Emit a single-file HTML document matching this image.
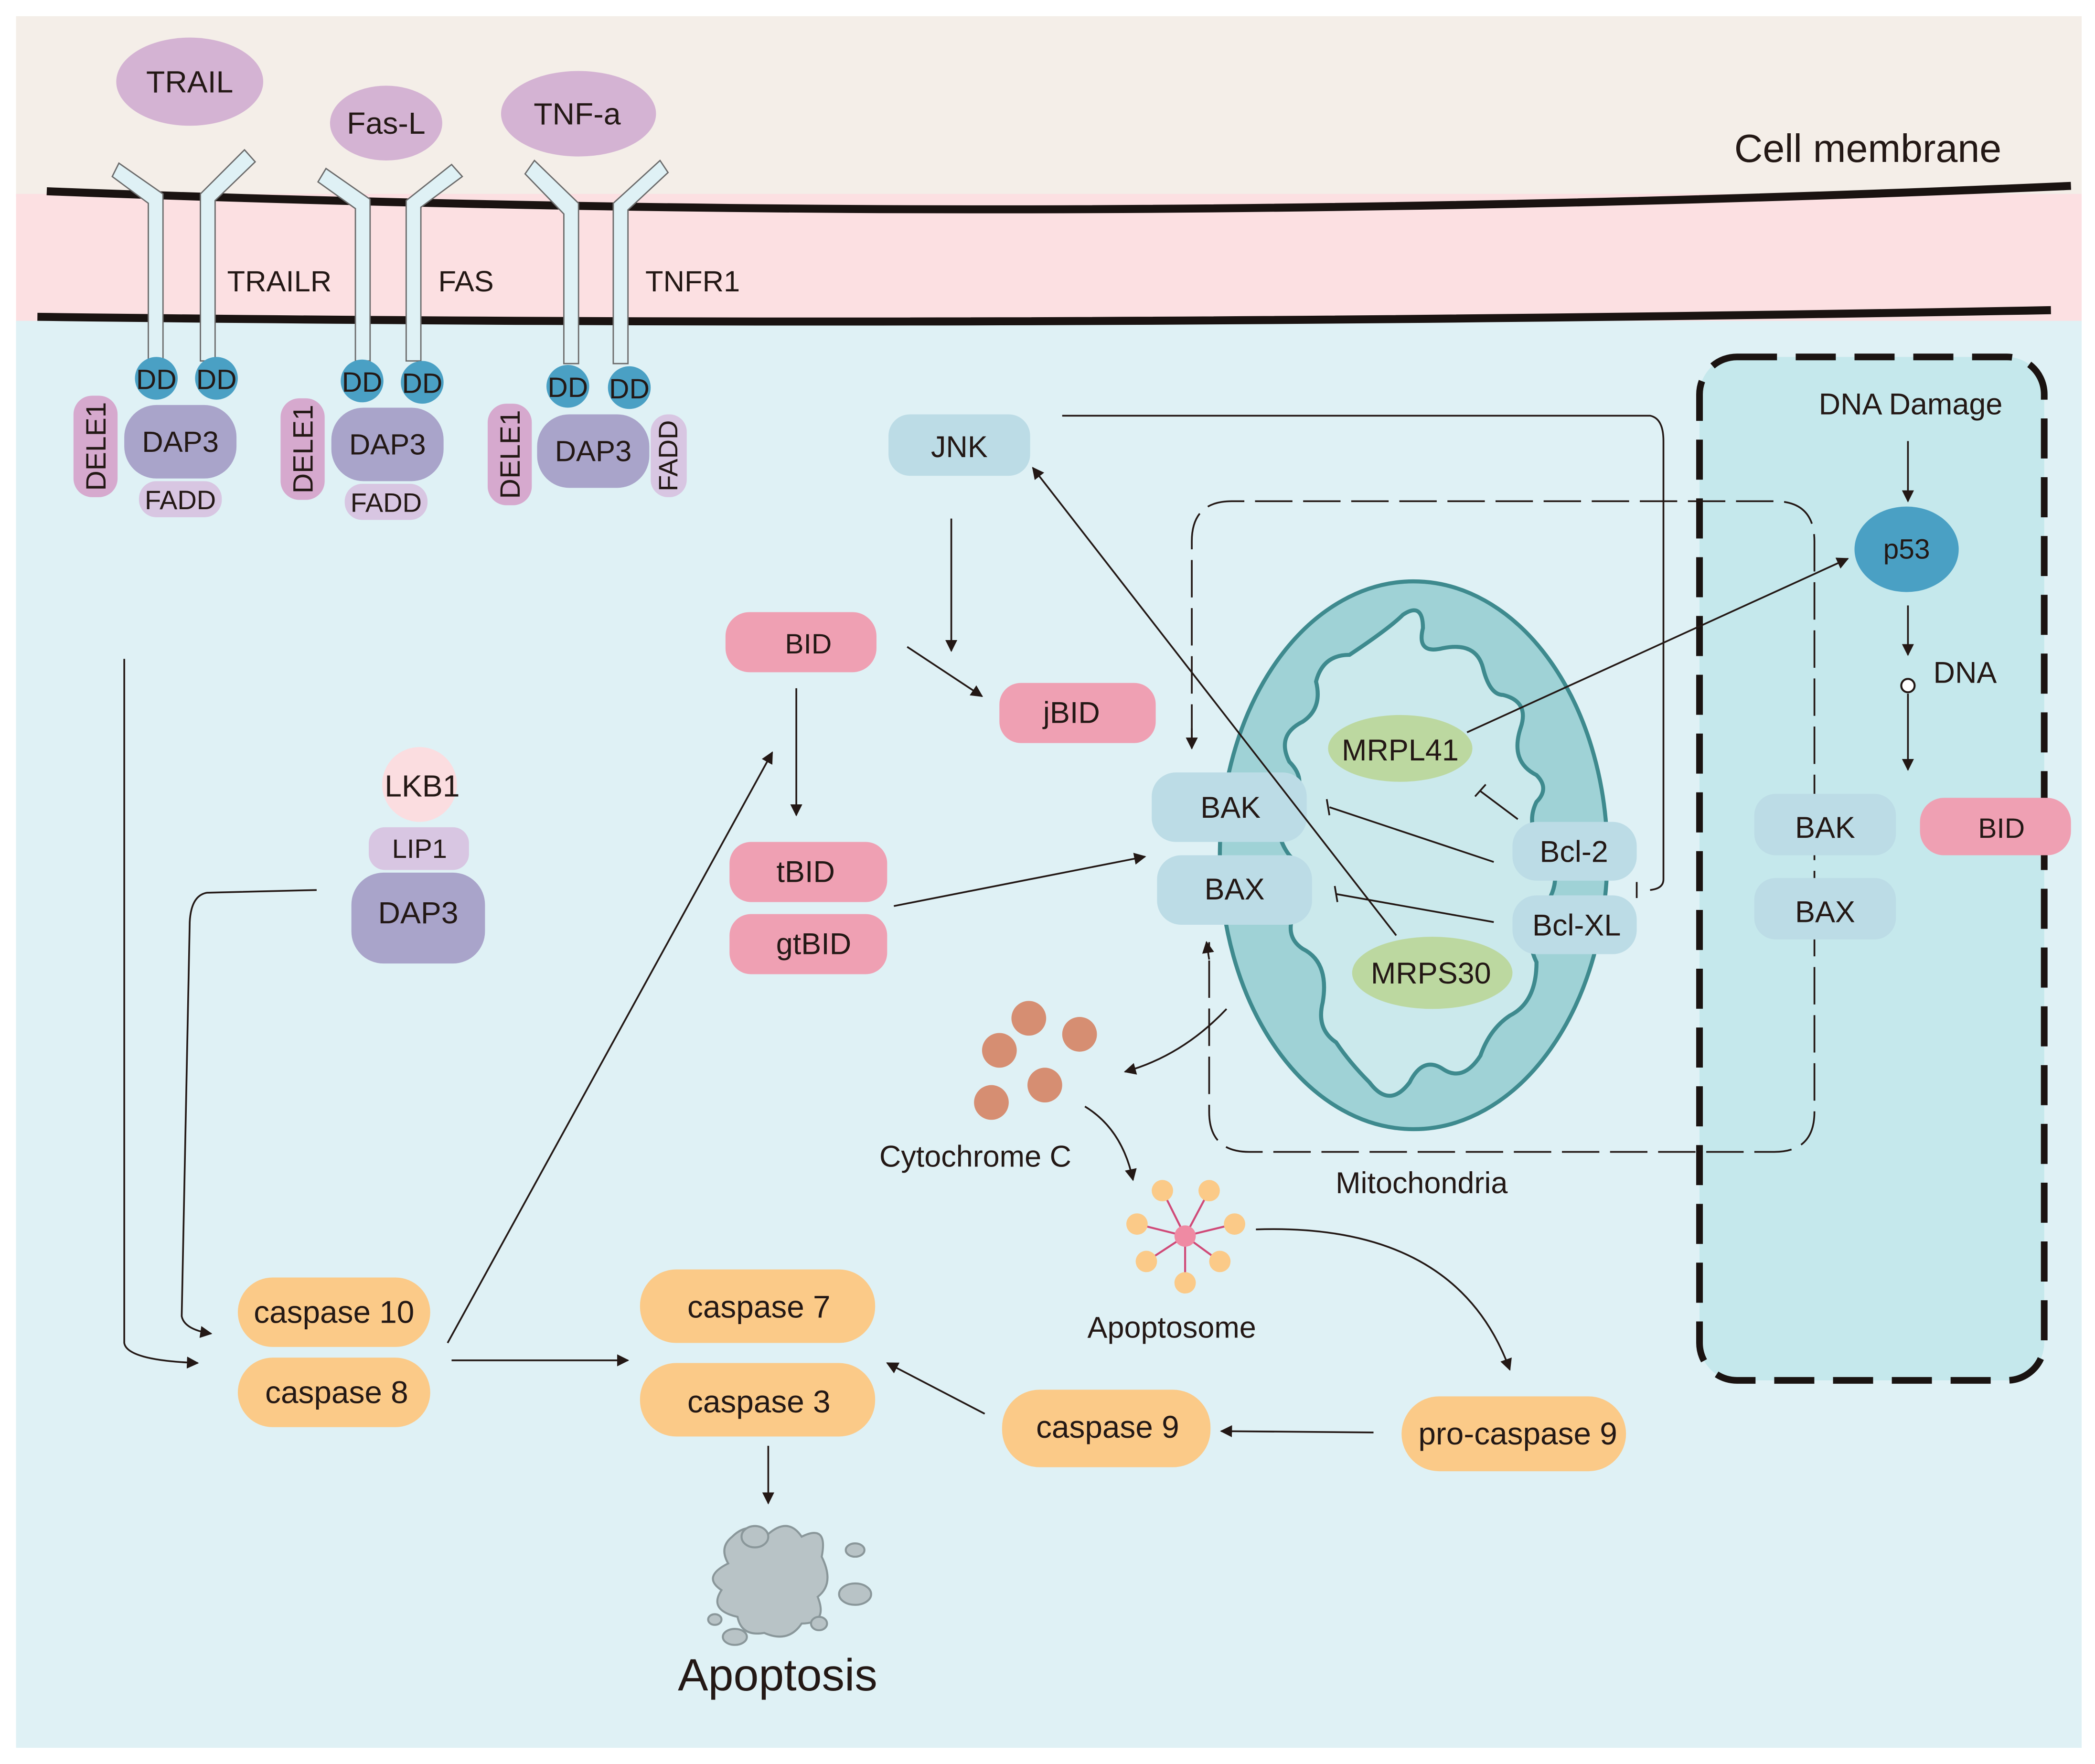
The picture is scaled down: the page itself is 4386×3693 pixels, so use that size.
<!DOCTYPE html>
<html><head><meta charset="utf-8"><style>html,body{margin:0;padding:0;background:#fff}svg{display:block}text{font-family:"Liberation Sans",sans-serif;fill:#231815}</style></head>
<body>
<svg width="4386" height="3693" viewBox="0 0 1568 1320" xmlns="http://www.w3.org/2000/svg">
<defs>
<marker id="a" viewBox="0 0 10 10" refX="9" refY="5" markerWidth="9" markerHeight="9" markerUnits="userSpaceOnUse" orient="auto"><path d="M0,0L10,5L0,10z" fill="#231815"/></marker>
</defs>
<rect x="0" y="0" width="1568" height="1320" fill="#fff"/>
<rect x="12" y="12" width="1546" height="135" fill="#f4eee8"/>
<rect x="12" y="145" width="1546" height="97" fill="#fce0e2"/>
<rect x="12" y="240" width="1546" height="1068" fill="#dff1f5"/>
<path d="M35,143 Q790,172 1550,139" stroke="#1a1311" stroke-width="6" fill="none"/>
<path d="M28,237 Q780,246 1535,232" stroke="#1a1311" stroke-width="6" fill="none"/>
<text x="1298" y="121" font-size="29.5">Cell membrane</text>
<!-- nucleus -->
<rect x="1272" y="267" width="258" height="766" rx="28" fill="#c5e8ec" stroke="#1a1311" stroke-width="5" stroke-dasharray="30,14"/>
<!-- inner dashed -->
<path d="M892,555 L892,405 Q892,375 922,375 L1328,375 Q1358,375 1358,405 L1358,832 Q1358,862 1328,862 L935,862 Q905,862 905,832 L905,705" fill="none" stroke="#231815" stroke-width="1.3" stroke-dasharray="28,8"/>
<line x1="892" y1="545" x2="892" y2="560" stroke="#231815" stroke-width="1.3" marker-end="url(#a)"/>
<line x1="905" y1="718" x2="903" y2="705" stroke="#231815" stroke-width="1.3" marker-end="url(#a)"/>
<!-- mitochondria -->
<ellipse cx="1058" cy="640" rx="145" ry="205" fill="#9fd2d6" stroke="#3e8a8e" stroke-width="3"/>
<path d="M1010,490 Q1040,470 1050,460 Q1065,450 1065,470 Q1060,490 1080,485 Q1105,480 1110,500 Q1115,520 1125,520 Q1145,525 1138,545 Q1130,570 1150,580 Q1160,590 1150,600 Q1140,620 1160,640 Q1170,660 1155,680 Q1140,700 1150,720 Q1150,750 1130,760 Q1115,770 1108,790 Q1095,810 1080,800 Q1065,790 1055,810 Q1040,830 1025,810 Q1010,795 1000,780 Q985,770 990,750 Q995,720 975,710 Q960,700 970,680 Q985,660 965,640 Q950,620 965,600 Q980,585 965,570 Q955,550 975,540 Q990,530 985,510 Q990,490 1010,490Z" fill="#cbe9ec" stroke="#3e8a8e" stroke-width="3"/>
<!-- ligands -->
<ellipse cx="142" cy="61" rx="55" ry="33" fill="#d4b3d3"/><text x="142" y="69" font-size="23" text-anchor="middle">TRAIL</text>
<ellipse cx="289" cy="92" rx="42" ry="28" fill="#d4b3d3"/><text x="289" y="100" font-size="23" text-anchor="middle">Fas-L</text>
<ellipse cx="433" cy="85" rx="58" ry="32" fill="#d4b3d3"/><text x="432" y="93" font-size="23" text-anchor="middle">TNF-a</text>
<!-- receptors -->
<g fill="#dff1f5" stroke="#6b6b6b" stroke-width="1">
<polygon points="111,270 111,152 84,132 89,122 122,145 122,270"/>
<polygon points="150,270 150,145 183,112 191,121 161,150 161,270"/>
<polygon points="266,270 266,156 238,136 244,126 277,149 277,270"/>
<polygon points="304,270 304,150 338,123 346,132 315,155 315,270"/>
<polygon points="422,272 422,160 393,130 400,120 433,152 433,272"/>
<polygon points="459,272 459,152 494,120 500,129 470,157 470,272"/>
</g>
<text x="170" y="218" font-size="22">TRAILR</text>
<text x="328" y="218" font-size="22">FAS</text>
<text x="483" y="218" font-size="22">TNFR1</text>
<g fill="#4aa0c4"><circle cx="117" cy="283" r="16"/><circle cx="162" cy="283" r="16"/><circle cx="271" cy="285" r="16"/><circle cx="316" cy="286" r="16"/><circle cx="425" cy="289" r="16"/><circle cx="471" cy="290" r="16"/></g>
<g font-size="21" text-anchor="middle"><text x="117" y="291">DD</text><text x="162" y="291">DD</text><text x="271" y="293">DD</text><text x="316" y="294">DD</text><text x="425" y="297">DD</text><text x="471" y="298">DD</text></g>
<g fill="#d8c6e2"><rect x="104" y="360" width="62" height="27" rx="13"/><rect x="258" y="362" width="62" height="27" rx="13"/><rect x="487" y="310" width="27" height="62" rx="13"/></g>
<g fill="#a9a4ca"><rect x="93" y="303" width="84" height="55" rx="24"/><rect x="248" y="305" width="84" height="55" rx="24"/><rect x="402" y="310" width="84" height="55" rx="24"/><rect x="263" y="653" width="100" height="68" rx="24"/></g>
<g fill="#d6a9ce"><rect x="55" y="296" width="33" height="76" rx="14"/><rect x="210" y="298" width="33" height="76" rx="14"/><rect x="365" y="302" width="33" height="76" rx="14"/></g>
<g font-size="22" text-anchor="middle"><text x="135" y="338">DAP3</text><text x="290" y="340">DAP3</text><text x="444" y="345">DAP3</text><text x="313" y="691" font-size="23">DAP3</text></g>
<g font-size="20" text-anchor="middle"><text x="135" y="381">FADD</text><text x="289" y="383">FADD</text></g>
<text transform="translate(507,341) rotate(-90)" font-size="20" text-anchor="middle">FADD</text>
<g font-size="21" text-anchor="middle"><text transform="translate(79,334) rotate(-90)">DELE1</text><text transform="translate(234,336) rotate(-90)">DELE1</text><text transform="translate(389,340) rotate(-90)">DELE1</text></g>
<circle cx="314" cy="587" r="28" fill="#fbdde0"/><text x="316" y="596" font-size="23" text-anchor="middle">LKB1</text>
<rect x="276" y="619" width="75" height="32" rx="12" fill="#d8c6e2"/><text x="314" y="642" font-size="20" text-anchor="middle">LIP1</text>
<!-- blue boxes -->
<g fill="#bcdce6"><rect x="665" y="310" width="106" height="46" rx="16"/><rect x="862" y="578" width="116" height="52" rx="18"/><rect x="866" y="640" width="116" height="52" rx="18"/><rect x="1132" y="615" width="93" height="44" rx="18"/><rect x="1132" y="670" width="93" height="44" rx="18"/><rect x="1313" y="594" width="106" height="46" rx="16"/><rect x="1313" y="657" width="106" height="46" rx="16"/></g>
<g font-size="22.5" text-anchor="middle"><text x="718" y="342">JNK</text><text x="921" y="612">BAK</text><text x="924" y="673">BAX</text><text x="1178" y="645">Bcl-2</text><text x="1180" y="700">Bcl-XL</text><text x="1366" y="627">BAK</text><text x="1366" y="690">BAX</text></g>
<!-- pink boxes -->
<g fill="#efa0b3"><rect x="543" y="458" width="113" height="45" rx="18"/><rect x="748" y="511" width="117" height="45" rx="16"/><rect x="546" y="630" width="118" height="45" rx="16"/><rect x="546" y="684" width="118" height="45" rx="16"/><rect x="1437" y="597" width="113" height="43" rx="18"/></g>
<g font-size="22.5" text-anchor="middle"><text x="605" y="489" font-size="21">BID</text><text x="802" y="541">jBID</text><text x="603" y="660">tBID</text><text x="609" y="714">gtBID</text><text x="1498" y="627" font-size="21">BID</text></g>
<!-- green -->
<ellipse cx="1048" cy="560" rx="54" ry="25" fill="#bcd8a0"/><text x="1048" y="569" font-size="22.5" text-anchor="middle">MRPL41</text>
<ellipse cx="1072" cy="728" rx="60" ry="27" fill="#bcd8a0"/><text x="1071" y="736" font-size="22.5" text-anchor="middle">MRPS30</text>
<!-- p53 -->
<ellipse cx="1427" cy="411" rx="39" ry="32" fill="#4aa0c4"/><text x="1427" y="418" font-size="21" text-anchor="middle">p53</text>
<text x="1430" y="310" font-size="22.5" text-anchor="middle">DNA Damage</text>
<text x="1447" y="511" font-size="22.5">DNA</text>
<circle cx="1428" cy="513" r="5" fill="#fff" stroke="#231815" stroke-width="1.5"/>
<!-- caspases -->
<g fill="#fbca88"><rect x="178" y="956" width="144" height="52" rx="26"/><rect x="178" y="1016" width="144" height="52" rx="26"/><rect x="479" y="950" width="176" height="55" rx="27"/><rect x="479" y="1020" width="176" height="55" rx="27"/><rect x="750" y="1040" width="156" height="58" rx="28"/><rect x="1049" y="1045" width="168" height="56" rx="28"/></g>
<g font-size="23.5" text-anchor="middle"><text x="250" y="990">caspase 10</text><text x="252" y="1050">caspase 8</text><text x="568" y="986">caspase 7</text><text x="568" y="1057">caspase 3</text><text x="829" y="1076">caspase 9</text><text x="1136" y="1081">pro-caspase 9</text></g>
<!-- cytochrome -->
<g fill="#d68e72"><circle cx="770" cy="762" r="13"/><circle cx="808" cy="774" r="13"/><circle cx="748" cy="786" r="13"/><circle cx="782" cy="812" r="13"/><circle cx="742" cy="825" r="13"/></g>
<text x="730" y="873" font-size="22.5" text-anchor="middle">Cytochrome C</text>
<!-- apoptosome -->
<g stroke="#d04a78" stroke-width="1.5"><line x1="887" y1="925" x2="870" y2="891"/><line x1="887" y1="925" x2="905" y2="891"/><line x1="887" y1="925" x2="851" y2="916"/><line x1="887" y1="925" x2="924" y2="916"/><line x1="887" y1="925" x2="858" y2="944"/><line x1="887" y1="925" x2="913" y2="944"/><line x1="887" y1="925" x2="887" y2="960"/></g>
<g fill="#fbca88"><circle cx="870" cy="891" r="8"/><circle cx="905" cy="891" r="8"/><circle cx="851" cy="916" r="8"/><circle cx="924" cy="916" r="8"/><circle cx="858" cy="944" r="8"/><circle cx="913" cy="944" r="8"/><circle cx="887" cy="960" r="8"/></g>
<circle cx="887" cy="925" r="8" fill="#ef8aa3"/>
<text x="877" y="1001" font-size="22.5" text-anchor="middle">Apoptosome</text>
<text x="1064" y="893" font-size="22.5" text-anchor="middle">Mitochondria</text>
<!-- apoptosis cell -->
<path d="M548,1150 Q560,1138 575,1148 Q590,1135 600,1150 Q620,1140 615,1165 Q625,1185 612,1195 Q620,1215 600,1215 Q590,1230 572,1222 Q555,1225 552,1210 Q530,1205 540,1190 Q525,1180 545,1170 Q538,1158 548,1150Z" fill="#b8c3c6" stroke="#8a979a" stroke-width="1.5"/>
<g fill="#b8c3c6" stroke="#8a979a" stroke-width="1.5"><ellipse cx="565" cy="1150" rx="10" ry="8"/><ellipse cx="640" cy="1160" rx="7" ry="5"/><ellipse cx="640" cy="1193" rx="12" ry="8"/><ellipse cx="550" cy="1225" rx="9" ry="6"/><ellipse cx="613" cy="1215" rx="6" ry="5"/><ellipse cx="535" cy="1212" rx="5" ry="4"/></g>
<text x="582" y="1265" font-size="34" text-anchor="middle">Apoptosis</text>
<!-- connectors -->
<g stroke="#231815" stroke-width="1.3" fill="none">
<path d="M93,493 L93,1005 Q95,1018 148,1020" marker-end="url(#a)"/>
<path d="M237,666 L155,668 Q143,670 142,690 L136,985 Q138,995 158,998" marker-end="url(#a)"/>
<line x1="335" y1="1005" x2="578" y2="563" marker-end="url(#a)"/>
<line x1="338" y1="1018" x2="470" y2="1018" marker-end="url(#a)"/>
<line x1="575" y1="1082" x2="575" y2="1125" marker-end="url(#a)"/>
<line x1="737" y1="1058" x2="664" y2="1020" marker-end="url(#a)"/>
<line x1="1028" y1="1072" x2="914" y2="1071" marker-end="url(#a)"/>
<path d="M940,920 Q1090,915 1130,1025" marker-end="url(#a)"/>
<path d="M812,828 Q840,845 848,883" marker-end="url(#a)"/>
<path d="M918,755 Q885,790 842,802" marker-end="url(#a)"/>
<line x1="596" y1="515" x2="596" y2="610" marker-end="url(#a)"/>
<line x1="679" y1="484" x2="735" y2="521" marker-end="url(#a)"/>
<line x1="712" y1="388" x2="712" y2="487" marker-end="url(#a)"/>
<line x1="669" y1="678" x2="857" y2="641" marker-end="url(#a)"/>
<line x1="1045" y1="700" x2="773" y2="350" marker-end="url(#a)"/>
<line x1="1098" y1="548" x2="1383" y2="418" marker-end="url(#a)"/>
<path d="M795,311 L1235,311 Q1245,313 1245,330 L1245,658 Q1245,665 1235,666"/>
<line x1="1225" y1="660" x2="1225" y2="672"/>
<line x1="1118" y1="645" x2="995" y2="604"/><line x1="993" y1="598" x2="995" y2="610"/>
<line x1="1118" y1="690" x2="1000" y2="669"/><line x1="999" y1="663" x2="1001" y2="675"/>
<line x1="1136" y1="613" x2="1108" y2="592"/><line x1="1104" y1="596" x2="1112" y2="587"/>
<line x1="1428" y1="330" x2="1428" y2="375" marker-end="url(#a)"/>
<line x1="1428" y1="453" x2="1428" y2="490" marker-end="url(#a)"/>
<line x1="1428" y1="519" x2="1428" y2="576" marker-end="url(#a)"/>
</g>
</svg>
</body></html>
